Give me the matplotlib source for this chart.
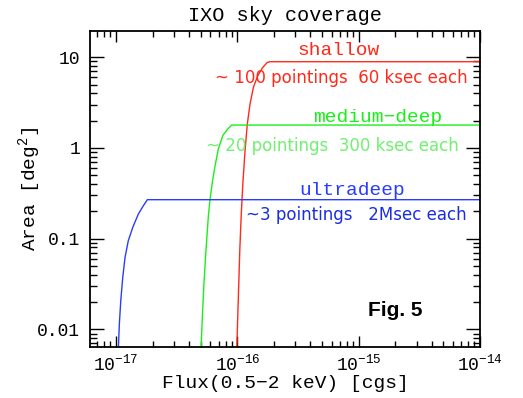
import matplotlib
matplotlib.use("Agg")
import matplotlib.pyplot as plt
from matplotlib.ticker import LogLocator, FixedLocator, NullFormatter

# Data (flux in cgs, area in deg^2)
shallow_flux = [9.89e-17, 1.007e-16, 1.027e-16, 1.047e-16, 1.074e-16, 1.109e-16, 1.157e-16,
                1.208e-16, 1.272e-16, 1.355e-16, 1.474e-16, 1.619e-16, 1.766e-16, 1.86e-16, 1e-14]
shallow_area = [0.0062, 0.01355, 0.0317, 0.0738, 0.172, 0.401, 0.934,
                1.84, 3.05, 4.66, 6.27, 7.74, 8.79, 8.94, 8.94]

medium_flux = [5.02e-17, 5.15e-17, 5.31e-17, 5.52e-17, 5.77e-17, 5.96e-17, 6.22e-17,
               6.55e-17, 6.97e-17, 7.58e-17, 8.34e-17, 8.99e-17, 1e-14]
medium_area = [0.0061, 0.0142, 0.033, 0.077, 0.179, 0.274, 0.418,
               0.638, 0.975, 1.37, 1.62, 1.79, 1.79]

ultra_flux = [1.045e-17, 1.065e-17, 1.094e-17, 1.136e-17, 1.186e-17, 1.262e-17,
              1.373e-17, 1.527e-17, 1.680e-17, 1.811e-17, 1e-14]
ultra_area = [0.0062, 0.0115, 0.0207, 0.0374, 0.0622, 0.0951,
              0.133, 0.187, 0.231, 0.269, 0.269]

y_ticks = [0.01, 0.1, 1, 10]
y_tick_labels = ["0.01", "0.1", "1", "10"]
x_ticks = [1e-17, 1e-16, 1e-15, 1e-14]
x_tick_labels = [r"$10^{-17}$", r"$10^{-16}$", r"$10^{-15}$", r"$10^{-14}$"]

RED = "#ff2a1a"
GREEN = "#19f019"
BLUE = "#2a3cff"

mono = "Liberation Mono"
plt.rcParams["mathtext.fontset"] = "custom"
plt.rcParams["mathtext.rm"] = mono
plt.rcParams["mathtext.it"] = mono
plt.rcParams["mathtext.bf"] = mono

fig = plt.figure(figsize=(5.23, 3.98), dpi=100)
ax = fig.add_axes([90/523, 1-347.3/398, 390/523, (347.3-31)/398])

ax.plot(shallow_flux, shallow_area, color=RED, lw=1.0)
ax.plot(medium_flux, medium_area, color=GREEN, lw=1.0)
ax.plot(ultra_flux, ultra_area, color=BLUE, lw=1.0)

ax.set_xscale("log")
ax.set_yscale("log")
ax.set_xlim(6.1e-18, 1e-14)
ax.set_ylim(0.00634, 19.5)

ax.xaxis.set_major_locator(FixedLocator(x_ticks))
ax.set_xticklabels(x_tick_labels, family=mono, fontsize=13)
ax.xaxis.set_minor_locator(LogLocator(base=10, subs=range(2, 10), numticks=20))
ax.xaxis.set_minor_formatter(NullFormatter())
ax.yaxis.set_major_locator(FixedLocator(y_ticks))
ax.set_yticklabels(y_tick_labels, family=mono, fontsize=13)
ax.yaxis.set_minor_locator(LogLocator(base=10, subs=range(2, 10), numticks=20))
ax.yaxis.set_minor_formatter(NullFormatter())

ax.tick_params(axis="both", which="both", direction="in", top=True, right=True, width=1.0)
ax.tick_params(axis="x", which="major", length=8, pad=5)
ax.tick_params(axis="x", which="minor", length=4)
ax.tick_params(axis="y", which="major", length=10, pad=7)
ax.tick_params(axis="y", which="minor", length=5)
for s in ax.spines.values():
    s.set_linewidth(1.3)

ax.set_xlabel("Flux(0.5\u22122 keV) [cgs]", family=mono, fontsize=14, labelpad=0)
ax.set_ylabel(r"Area [deg$^2$]", family=mono, fontsize=14, labelpad=-4)
ax.set_title("IXO sky coverage", family=mono, fontsize=14.5, pad=7)

ax.text(0.637, 0.937, "shallow", transform=ax.transAxes, color=RED, family=mono,
        fontsize=14, ha="center", va="center")
ax.text(0.645, 0.850, "~ 100 pointings  60 ksec each", transform=ax.transAxes, color=RED,
        family="DejaVu Sans", fontsize=12, ha="center", va="center")
ax.text(0.737, 0.727, "medium\u2212deep", transform=ax.transAxes, color=GREEN, family=mono,
        fontsize=14, ha="center", va="center")
ax.text(0.622, 0.635, "~ 20 pointings  300 ksec each", transform=ax.transAxes, color="#70f070",
        family="DejaVu Sans", fontsize=12, ha="center", va="center")
ax.text(0.671, 0.497, "ultradeep", transform=ax.transAxes, color=BLUE, family=mono,
        fontsize=14, ha="center", va="center")
ax.text(0.682, 0.418, "~3 pointings   2Msec each", transform=ax.transAxes, color="#1a2ee0",
        family="DejaVu Sans", fontsize=12, ha="center", va="center")
ax.text(0.782, 0.115, "Fig. 5", transform=ax.transAxes, color="black", family="Liberation Sans",
        fontsize=15, fontweight="bold", ha="center", va="center")

fig.savefig("out.png", dpi=100)
